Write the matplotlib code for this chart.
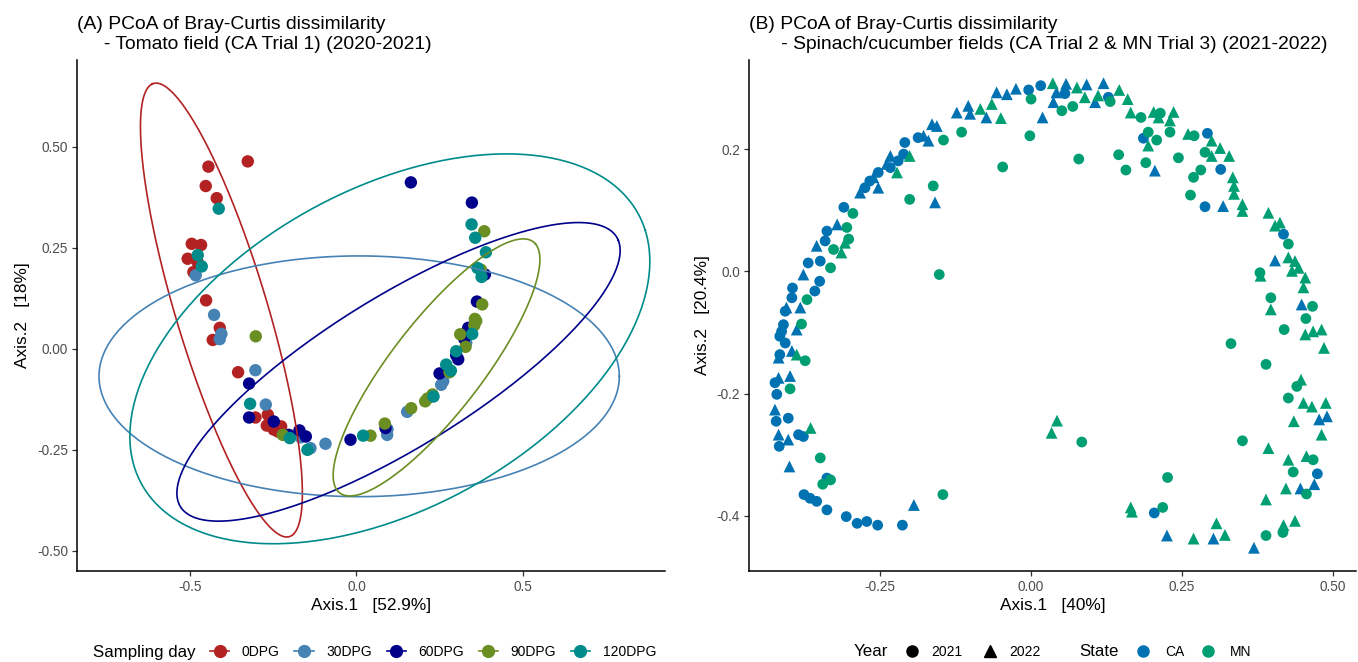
import numpy as np
import matplotlib
matplotlib.use("Agg")
import matplotlib.pyplot as plt
from matplotlib.lines import Line2D

plt.rcParams['font.family'] = ['Liberation Sans', 'DejaVu Sans']

# ---- panel A: tomato field, points per sampling day ----
days = ['0DPG', '30DPG', '60DPG', '90DPG', '120DPG']
day_colors = ['#B22222', '#4682B4', '#00008B', '#6B8E23', '#008B8B']

d0_x = [-0.326, -0.444, -0.452, -0.419, -0.494, -0.466, -0.506, -0.476, -0.489, -0.451,
        -0.410, -0.431, -0.355, -0.303, -0.266, -0.269, -0.248, -0.226, -0.235]
d0_y = [0.464, 0.451, 0.403, 0.373, 0.260, 0.257, 0.223, 0.214, 0.190, 0.120,
        0.052, 0.022, -0.058, -0.170, -0.163, -0.190, -0.200, -0.192, -0.205]

d30_x = [-0.482, -0.427, -0.405, -0.410, -0.303, -0.272, -0.167, -0.138, -0.093, 0.093,
         0.092, 0.152, 0.254, 0.260, 0.329]
d30_y = [0.182, 0.084, 0.037, 0.024, -0.053, -0.138, -0.219, -0.246, -0.235, -0.199,
         -0.213, -0.156, -0.089, -0.080, 0.015]

d60_x = [0.163, 0.346, 0.385, 0.361, -0.322, -0.322, -0.248, -0.203, -0.171, -0.152,
         -0.018, 0.087, 0.249, 0.305, 0.299, 0.323, 0.335]
d60_y = [0.412, 0.362, 0.184, 0.117, -0.086, -0.170, -0.180, -0.213, -0.202, -0.217,
         -0.225, -0.196, -0.061, -0.026, -0.016, 0.025, 0.052]

d90_x = [-0.302, -0.221, 0.042, 0.085, 0.164, 0.206, 0.213, 0.228, 0.279, 0.327,
         0.311, 0.353, 0.359, 0.377, 0.373, 0.383, 0.355]
d90_y = [0.031, -0.213, -0.215, -0.185, -0.147, -0.130, -0.123, -0.113, -0.058, 0.005,
         0.036, 0.058, 0.069, 0.110, 0.196, 0.291, 0.074]

d120_x = [-0.413, -0.476, -0.464, -0.319, -0.200, -0.147, 0.020, 0.231, 0.283, 0.269,
          0.299, 0.347, 0.345, 0.356, 0.388, 0.363, 0.375]
d120_y = [0.347, 0.232, 0.204, -0.136, -0.221, -0.250, -0.215, -0.118, -0.054, -0.039,
          -0.006, 0.037, 0.308, 0.275, 0.239, 0.200, 0.178]

# 95% ellipses: centre x, centre y, semi-major, semi-minor, angle (deg)
ell_cx = [-0.405, 0.008, 0.126, 0.240, 0.100]
ell_cy = [0.096, -0.068, -0.057, -0.046, 0.000]
ell_a = [0.597, 0.780, 0.735, 0.426, 0.820]
ell_b = [0.135, 0.298, 0.195, 0.126, 0.410]
ell_ang = [110.3, 0.0, 26.3, 45.9, 21.0]

# ---- panel B: spinach/cucumber fields ----
ca21_x = [-0.187, -0.209, -0.211, -0.220, -0.233, -0.253, -0.267, -0.275, -0.310, -0.338,
          -0.341, -0.369, -0.349, -0.350, -0.358, -0.395, -0.396, -0.407, -0.410, -0.413,
          -0.416, -0.407, -0.416, -0.424, -0.421, -0.422, -0.402, -0.385, -0.377, -0.417,
          -0.338, -0.376, -0.366, -0.355, -0.338, -0.306, -0.288, -0.272, -0.254, -0.213,
          -0.004, 0.016, 0.056, 0.128, 0.186, 0.292, 0.314, 0.288, 0.418, 0.474, 0.204]
ca21_y = [0.219, 0.211, 0.192, 0.181, 0.170, 0.162, 0.148, 0.137, 0.105, 0.066,
          0.050, 0.014, 0.017, -0.016, -0.032, -0.027, -0.043, -0.065, -0.087, -0.098,
          -0.106, -0.117, -0.136, -0.182, -0.201, -0.245, -0.240, -0.267, -0.270, -0.286,
          -0.338, -0.365, -0.371, -0.376, -0.390, -0.401, -0.412, -0.409, -0.415, -0.415,
          0.297, 0.304, 0.291, 0.285, 0.218, 0.226, 0.167, 0.106, 0.061, -0.331, -0.395]

ca22_x = [-0.164, -0.156, -0.178, -0.170, -0.233, -0.239, -0.261, -0.253, -0.283, -0.159,
          -0.321, -0.355, -0.377, -0.405, -0.382, -0.388, -0.418, -0.396, -0.418, -0.399,
          -0.424, -0.418, -0.402, -0.400, -0.194,
          -0.123, -0.104, -0.101, -0.074, -0.057, -0.040, -0.025, 0.019, 0.042, 0.058,
          0.037, 0.092, 0.106, 0.120, 0.205, 0.318,
          0.404, 0.448, 0.477, 0.490, 0.446, 0.469, 0.302, 0.369, 0.225]
ca22_y = [0.241, 0.238, 0.222, 0.214, 0.189, 0.176, 0.154, 0.137, 0.129, 0.113,
          0.077, 0.042, -0.005, -0.059, -0.059, -0.095, -0.141, -0.130, -0.174, -0.171,
          -0.226, -0.267, -0.275, -0.319, -0.382,
          0.260, 0.271, 0.258, 0.252, 0.293, 0.290, 0.299, 0.252, 0.293, 0.307,
          0.277, 0.306, 0.277, 0.308, 0.165, 0.107,
          0.018, -0.054, -0.242, -0.237, -0.355, -0.348, -0.437, -0.452, -0.432]

mn21_x = [-0.145, -0.162, -0.201, -0.295, -0.305, -0.302, -0.327, -0.332, -0.371, -0.380,
          -0.374, -0.399, -0.349, -0.332, -0.345, -0.146, -0.152,
          -0.115, 0.000, -0.002, -0.047, 0.051, 0.069, 0.131, 0.182, 0.214, 0.194,
          0.208, 0.230, 0.079, 0.145, 0.157, 0.190, 0.244, 0.270, 0.288, 0.281,
          0.269, 0.264,
          0.426, 0.379, 0.397, 0.466, 0.455, 0.419, 0.331, 0.389, 0.440, 0.426,
          0.350, 0.467, 0.434, 0.456, 0.417, 0.389, 0.084, 0.226, 0.218]
mn21_y = [0.215, 0.140, 0.118, 0.095, 0.072, 0.053, 0.036, 0.006, -0.046, -0.086,
          -0.146, -0.192, -0.305, -0.341, -0.348, -0.365, -0.005,
          0.228, 0.282, 0.222, 0.171, 0.263, 0.270, 0.278, 0.252, 0.259, 0.228,
          0.215, 0.228, 0.184, 0.191, 0.166, 0.178, 0.186, 0.222, 0.195, 0.166,
          0.154, 0.125,
          0.045, -0.002, -0.043, -0.057, -0.077, -0.095, -0.118, -0.152, -0.188, -0.207,
          -0.277, -0.308, -0.328, -0.364, -0.427, -0.432, -0.279, -0.337, -0.386]

mn22_x = [-0.201, -0.222, -0.308, -0.314, -0.388, -0.365,
          -0.084, -0.065, -0.050, 0.036, 0.076, 0.089, 0.111, 0.146, 0.160, 0.165,
          0.203, 0.211, 0.236, 0.230, 0.194, 0.260, 0.299, 0.299, 0.313, 0.328,
          0.334, 0.336, 0.336, 0.350, 0.350,
          0.393, 0.404, 0.412, 0.426, 0.437, 0.432, 0.443, 0.380, 0.454, 0.451,
          0.397, 0.454, 0.467, 0.481, 0.485, 0.447, 0.451, 0.465, 0.488, 0.435,
          0.481, 0.393, 0.426, 0.456, 0.422, 0.389, 0.437, 0.418, 0.307, 0.321,
          0.269, 0.043, 0.034, 0.165, 0.167]
mn22_y = [0.189, 0.162, 0.047, 0.031, -0.136, -0.256,
          0.266, 0.274, 0.251, 0.308, 0.301, 0.285, 0.288, 0.297, 0.282, 0.260,
          0.261, 0.252, 0.261, 0.247, 0.206, 0.225, 0.214, 0.189, 0.202, 0.189,
          0.154, 0.140, 0.127, 0.110, 0.099,
          0.096, 0.075, 0.080, 0.023, 0.017, 0.001, 0.006, -0.007, -0.010, -0.026,
          -0.062, -0.103, -0.098, -0.095, -0.125, -0.177, -0.215, -0.221, -0.215, -0.245,
          -0.267, -0.289, -0.308, -0.302, -0.355, -0.373, -0.408, -0.415, -0.412, -0.431,
          -0.437, -0.244, -0.264, -0.386, -0.393]

state_colors = {'CA': '#0072B2', 'MN': '#009E73'}

fig = plt.figure(figsize=(13.58, 6.62), dpi=100)
axA = fig.add_axes([77 / 1358, 91 / 662, 588 / 1358, 511 / 662])
axB = fig.add_axes([749 / 1358, 91 / 662, 607 / 1358, 511 / 662])


def style_axes(ax):
    for s in ['top', 'right']:
        ax.spines[s].set_visible(False)
    for s in ['left', 'bottom']:
        ax.spines[s].set_linewidth(1.1)
        ax.spines[s].set_color('black')
    ax.tick_params(length=3.5, width=0.9, color='#333333', labelcolor='#4D4D4D',
                   labelsize=9.8, pad=3)


# panel A
groups_x = [d0_x, d30_x, d60_x, d90_x, d120_x]
groups_y = [d0_y, d30_y, d60_y, d90_y, d120_y]
for gx, gy, col in zip(groups_x, groups_y, day_colors):
    axA.scatter(gx, gy, s=80, color=col, edgecolors='none', zorder=2)

t = np.linspace(0, 2 * np.pi, 300)
for i, col in enumerate(day_colors):
    th = np.deg2rad(ell_ang[i])
    ex = ell_cx[i] + ell_a[i] * np.cos(t) * np.cos(th) - ell_b[i] * np.sin(t) * np.sin(th)
    ey = ell_cy[i] + ell_a[i] * np.cos(t) * np.sin(th) + ell_b[i] * np.sin(t) * np.cos(th)
    axA.plot(ex, ey, color=col, lw=1.2, zorder=3)

axA.set_xlim(-0.838, 0.925)
axA.set_ylim(-0.55, 0.715)
axA.set_xticks([-0.5, 0.0, 0.5], ['-0.5', '0.0', '0.5'])
axA.set_yticks([-0.5, -0.25, 0.0, 0.25, 0.5], ['-0.50', '-0.25', '0.00', '0.25', '0.50'])
axA.set_xlabel('Axis.1   [52.9%]', fontsize=12.4, labelpad=3)
axA.set_ylabel('Axis.2   [18%]', fontsize=12.4, labelpad=5)
axA.set_title('(A) PCoA of Bray-Curtis dissimilarity\n     - Tomato field (CA Trial 1) (2020-2021)',
              loc='left', fontsize=13.9, linespacing=1.25, pad=8)
style_axes(axA)

# panel B
for gx, gy, col, mk, sz in [(ca21_x, ca21_y, state_colors['CA'], 'o', 60),
                            (ca22_x, ca22_y, state_colors['CA'], '^', 72),
                            (mn21_x, mn21_y, state_colors['MN'], 'o', 60),
                            (mn22_x, mn22_y, state_colors['MN'], '^', 72)]:
    axB.scatter(gx, gy, s=sz, marker=mk, color=col, edgecolors='none', zorder=2)

axB.set_xlim(-0.467, 0.538)
axB.set_ylim(-0.49, 0.346)
axB.set_xticks([-0.25, 0.0, 0.25, 0.5], ['-0.25', '0.00', '0.25', '0.50'])
axB.set_yticks([-0.4, -0.2, 0.0, 0.2], ['-0.4', '-0.2', '0.0', '0.2'])
axB.set_xlabel('Axis.1   [40%]', fontsize=12.4, labelpad=3)
axB.set_ylabel('Axis.2   [20.4%]', fontsize=12.4, labelpad=5)
axB.set_title('(B) PCoA of Bray-Curtis dissimilarity\n      - Spinach/cucumber fields (CA Trial 2 & MN Trial 3) (2021-2022)',
              loc='left', fontsize=13.9, linespacing=1.25, pad=8)
style_axes(axB)

# legends along the bottom
ly = 10 / 662
fig.text(93 / 1358, ly, 'Sampling day', fontsize=12.2, va='center', ha='left')
day_handles = [Line2D([0], [0], color=c, marker='o', markersize=8.5, lw=1.2) for c in day_colors]
fig.legend(day_handles, days, loc='center left', bbox_to_anchor=(210 / 1358, ly), ncol=5,
           frameon=False, fontsize=10, handlelength=1.4, handletextpad=0.9,
           columnspacing=1.05, borderpad=0, borderaxespad=0)

fig.text(854 / 1358, ly, 'Year', fontsize=12.2, va='center', ha='left')
year_handles = [Line2D([0], [0], color='black', marker='o', markersize=8, lw=0),
                Line2D([0], [0], color='black', marker='^', markersize=9, lw=0)]
fig.legend(year_handles, ['2021', '2022'], loc='center left', bbox_to_anchor=(906 / 1358, ly),
           ncol=2, frameon=False, fontsize=10, handlelength=0.8, handletextpad=1.0,
           columnspacing=1.6, borderpad=0, borderaxespad=0)

fig.text(1079 / 1358, ly, 'State', fontsize=12.2, va='center', ha='left')
state_handles = [Line2D([0], [0], color=state_colors[k], marker='o', markersize=8, lw=0)
                 for k in ['CA', 'MN']]
fig.legend(state_handles, ['CA', 'MN'], loc='center left', bbox_to_anchor=(1137 / 1358, ly),
           ncol=2, frameon=False, fontsize=10, handlelength=0.8, handletextpad=1.2,
           columnspacing=1.3, borderpad=0, borderaxespad=0)

fig.savefig('out.png', dpi=100, facecolor='white')
